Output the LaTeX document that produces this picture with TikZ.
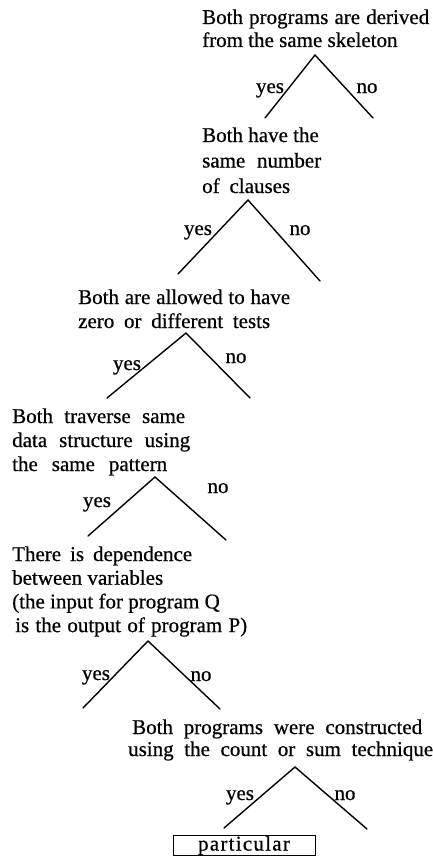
\documentclass[tikz,border=0pt]{standalone}
\usepackage{fontspec}
\setmainfont[FakeBold=0.6]{Liberation Serif}
\tikzset{
  txt/.style={anchor=base west, inner sep=0pt, font=\fontsize{21}{24}\selectfont},
  lbl/.style={anchor=base, inner sep=0pt, font=\fontsize{21}{24}\selectfont},
  branch/.style={line width=1.4pt, line cap=round, line join=miter},
  leafbox/.style={draw, line width=1pt, inner sep=0pt, minimum width=142pt, minimum height=19pt,
    font=\fontsize{21}{24}\selectfont\addfontfeature{LetterSpace=6}}
}
\begin{document}
\begin{tikzpicture}[x=1pt,y=-1pt]
\useasboundingbox (0,0) rectangle (433,859);

% question 1
\node[txt] (q1) at (202,24) {\vtop{\baselineskip=23pt
  \hbox to 227pt{Both programs are derived}\hbox{from the same skeleton}}};
\coordinate (a1) at (315,55);
\coordinate (y1) at (265,118);
\coordinate (n1) at (373,118);
\draw[branch] (y1) -- (a1) -- (n1);
\node[lbl] (ly1) at (270,93) {yes};
\node[lbl] (ln1) at (367,93) {no};

% question 2
\node[txt] (q2) at (202,142) {\vtop{\baselineskip=25.5pt
  \hbox{Both have the}\hbox to 119pt{same number}\hbox to 88pt{of clauses}}};
\coordinate (a2) at (248,200);
\coordinate (y2) at (178,274);
\coordinate (n2) at (320,281);
\draw[branch] (y2) -- (a2) -- (n2);
\node[lbl] (ly2) at (198,235) {yes};
\node[lbl] (ln2) at (300,235) {no};

% question 3
\node[txt] (q3) at (78,304) {\vtop{\baselineskip=24pt
  \hbox to 212pt{Both are allowed to have}\hbox to 192pt{zero or different tests}}};
\coordinate (a3) at (186,333);
\coordinate (y3) at (107,398);
\coordinate (n3) at (250,398);
\draw[branch] (y3) -- (a3) -- (n3);
\node[lbl] (ly3) at (127,370) {yes};
\node[lbl] (ln3) at (236,363) {no};

% question 4
\node[txt] (q4) at (12,423) {\vtop{\baselineskip=24pt
  \hbox to 173pt{Both traverse same}\hbox to 178pt{data structure using}\hbox to 155pt{the same pattern}}};
\coordinate (a4) at (155,477);
\coordinate (y4) at (88,536);
\coordinate (n4) at (226,540);
\draw[branch] (y4) -- (a4) -- (n4);
\node[lbl] (ly4) at (97,507) {yes};
\node[lbl] (ln4) at (218,493) {no};

% question 5
\node[txt] (q5) at (12,561) {\vtop{\baselineskip=23.7pt
  \hbox to 180pt{There is dependence}\hbox{between variables}\hbox{(the input for program Q}
  \hbox{\hspace*{3pt}\hbox to 232pt{is the output of program P)}}}};
\coordinate (a5) at (148,641);
\coordinate (y5) at (83,708);
\coordinate (n5) at (220,709);
\draw[branch] (y5) -- (a5) -- (n5);
\node[lbl] (ly5) at (96,680) {yes};
\node[lbl] (ln5) at (201,681) {no};

% question 6
\node[txt] (q6) at (128,734) {\vtop{\baselineskip=22pt
  \hbox{\hspace*{4pt}\hbox to 290pt{Both programs were constructed}}\hbox to 305pt{using the count or sum technique}}};
\coordinate (a6) at (295,767);
\coordinate (y6) at (224,828);
\coordinate (n6) at (367,829);
\draw[branch] (y6) -- (a6) -- (n6);
\node[lbl] (ly6) at (240,800) {yes};
\node[lbl] (ln6) at (345,800) {no};

% leaf
\node[leafbox] (part) at (244,845.5) {particular};
\end{tikzpicture}
\end{document}
